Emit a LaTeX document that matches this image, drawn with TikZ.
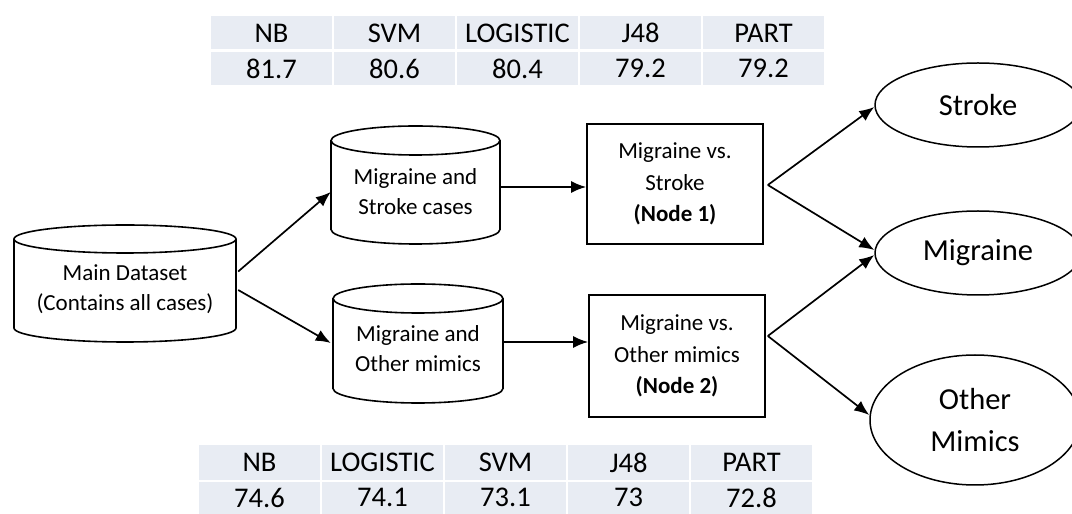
\documentclass[tikz,border=0pt]{standalone}
\usepackage{fontspec}
\setmainfont{Carlito}
\usetikzlibrary{shapes.geometric,arrows.meta,calc}
\definecolor{cellbg}{RGB}{232,236,243}
\tikzset{
  box/.style={draw, line width=1.7pt, minimum width=176pt, minimum height=120pt, inner sep=0pt, align=center, font=\fontsize{23}{31.5}\selectfont},
  cyltext/.style={align=center, inner sep=0pt, font=\fontsize{23}{30}\selectfont},
  oval/.style={draw, ellipse, line width=1.5pt, inner sep=0pt, align=center, font=\fontsize{30.5}{42}\selectfont},
  cell/.style={fill=cellbg, draw=white, line width=2.5pt, minimum width=123pt, minimum height=36pt, inner sep=0pt, font=\fontsize{28.5}{30}\selectfont},
  celltext/.style={inner sep=0pt, font=\fontsize{28.5}{30}\selectfont},
  arr/.style={-{Latex[length=15pt,width=12pt]}, line width=1.7pt},
  cylline/.style={line width=1.6pt}
}
\newcommand\cylshape[5]{%
  \pgfmathsetmacro\cylrx{(#2-#1)/2}%
  \pgfmathsetmacro\cylcx{(#1+#2)/2}%
  \draw[cylline] (\cylcx,{#3-#5}) ellipse[x radius=\cylrx, y radius=#5]
    (#1,{#3-#5}) -- (#1,{#4+#5}) arc[start angle=180, end angle=360, x radius=\cylrx, y radius=#5] -- (#2,{#3-#5});
}
\begin{document}
\begin{tikzpicture}[x=1pt,y=1pt]
\clip (0,0) rectangle (1072,514);
\fill[white] (0,0) rectangle (1072,514);

% tables
\foreach \t [count=\i] in {NB,SVM,LOGISTIC,J48,PART}
  \node[cell] (th\i) at ({271.5+123*(\i-1)},481) {\t};
\foreach \t [count=\i] in {81.7,80.6,80.4,79.2,79.2}
  \node[cell] (tv\i) at ({271.5+123*(\i-1)},445.5) {\t};
\foreach \t [count=\i] in {NB,LOGISTIC,SVM,J48,PART}
  \node[cell, minimum height=37pt] (bh\i) at ({259.5+123*(\i-1)},51.5) {\t};
\foreach \t [count=\i] in {74.6,74.1,73.1,73,72.8}{
  \node[cell, minimum height=37pt] (bvc\i) at ({259.5+123*(\i-1)},14.5) {};
  \node[celltext] (bv\i) at ({259.5+123*(\i-1)},16.5) {\t};
}

% cylinders
\cylshape{14}{236}{289}{172}{14}
\node[minimum width=222pt, minimum height=117pt, inner sep=0pt] (main) at (125,230.5) {};
\node[cyltext] (maint) at (125,225) {Main Dataset\\(Contains all cases)};

\cylshape{331}{500}{388}{270}{14.5}
\node[minimum width=169pt, minimum height=118pt, inner sep=0pt] (c1) at (415.5,329) {};
\node[cyltext] (c1t) at (415.5,322) {Migraine and\\Stroke cases};

\cylshape{333}{503}{230}{111}{14.5}
\node[minimum width=170pt, minimum height=119pt, inner sep=0pt] (c2) at (418,170.5) {};
\node[cyltext] (c2t) at (418,165) {Migraine and\\Other mimics};

% boxes
\node[box] (r1) at (675,330) {Migraine vs.\\Stroke\\\textbf{(Node 1)}};
\node[box, minimum height=122pt] (r2) at (677,158) {Migraine vs.\\Other mimics\\\textbf{(Node 2)}};

% ellipses
\node[oval, minimum width=206pt, minimum height=84pt] (stroke) at (978,409) {Stroke};
\node[oval, minimum width=206pt, minimum height=84pt] (mig) at (978,261) {Migraine};
\node[oval, minimum width=210pt, minimum height=130pt] (oth) at (975,94) {Other\\Mimics};

% connectors
\draw[arr] ($(main.east)+(2,12)$) -- ($(c1.west)+(0,-7)$);
\draw[arr] ($(main.east)+(2,-6.5)$) -- ($(c2.west)+(-2,0.5)$);
\draw[arr] ($(c1.east)+(0,-2)$) -- ($(r1.west)+(0,-3)$);
\draw[arr] ($(c2.east)+(0,1.5)$) -- ($(r2.west)+(0,14)$);
\draw[arr] ($(r1.east)+(4,-1)$) -- ($(stroke.west)+(0,-2)$);
\draw[arr] ($(r1.east)+(4,-1)$) -- ($(mig.west)+(0,3)$);
\draw[arr] ($(r2.east)+(2,20)$) -- ($(mig.west)+(0,-2)$);
\draw[arr] ($(r2.east)+(2,20)$) -- ($(oth.west)+(0,5)$);
\end{tikzpicture}
\end{document}
